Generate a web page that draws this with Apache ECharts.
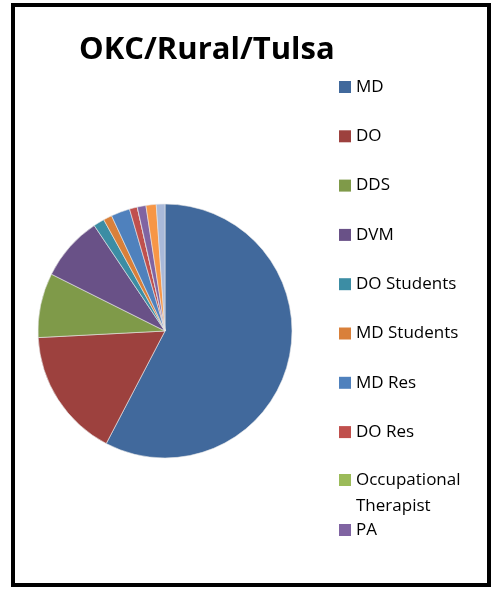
<!DOCTYPE html>
<html>
<head>
<meta charset="utf-8">
<script src="https://cdn.jsdelivr.net/npm/echarts@6/dist/echarts.min.js"></script>
<style>
  html, body { margin: 0; padding: 0; background: #fff; }
  #chart { width: 498px; height: 589px; }
</style>
</head>
<body>
<div id="chart"></div>
<script>
// Provider mix for OKC / Rural / Tulsa
const categories = ['MD', 'DO', 'DDS', 'DVM', 'DO Students', 'MD Students',
  'MD Res', 'DO Res', 'Occupational Therapist', 'PA', 'NP', 'Other'];
const counts = [576, 165, 82, 82, 14, 11, 24, 10, 0, 11, 13, 11];
const colors = ['#41699c', '#9d413e', '#7f9a49', '#695187', '#3c8da4', '#d9803a',
  '#4f81bd', '#c0504d', '#9bbb59', '#8064a2', '#f79646', '#a9b9d9'];

const legendMain = categories.slice(0, 8);
const legendOT = categories.slice(8, 9);
const legendPA = categories.slice(9, 10);

const font = '"Open Sans", "Liberation Sans", sans-serif';
const legendBase = {
  orient: 'vertical',
  left: 334,
  icon: 'rect',
  itemWidth: 12,
  itemHeight: 12,
  selectedMode: false,
  itemStyle: { borderWidth: 0 },
  textStyle: { fontFamily: font, fontSize: 17, color: '#000', lineHeight: 20 }
};

const chart = echarts.init(document.getElementById('chart'), null, { renderer: 'canvas' });
chart.setOption({
  animation: false,
  color: colors,
  title: {
    text: 'OKC/Rural/Tulsa',
    left: 74,
    top: 30,
    textStyle: { fontFamily: font, fontWeight: 'bold', fontSize: 31, color: '#000' }
  },
  legend: [
    Object.assign({}, legendBase, { data: legendMain, top: 72, itemGap: 29.3 }),
    Object.assign({}, legendBase, {
      data: legendOT, top: 436,
      formatter: () => '\nOccupational\nTherapist',
      textStyle: { fontFamily: font, fontSize: 17, color: '#000', lineHeight: 26 }
    }),
    Object.assign({}, legendBase, { data: legendPA, top: 515 })
  ],
  graphic: [{
    type: 'rect',
    shape: { x: 13, y: 5, width: 476, height: 580 },
    style: { fill: 'none', stroke: '#000', lineWidth: 4 },
    silent: true
  }],
  series: [{
    type: 'pie',
    center: [165, 331],
    radius: 127,
    startAngle: 90,
    clockwise: true,
    label: { show: false },
    labelLine: { show: false },
    emphasis: { disabled: true },
    itemStyle: { borderColor: '#e8e8e8', borderWidth: 0.6 },
    data: categories.map((name, i) => ({ name: name, value: counts[i] }))
  }]
});
</script>
</body>
</html>
